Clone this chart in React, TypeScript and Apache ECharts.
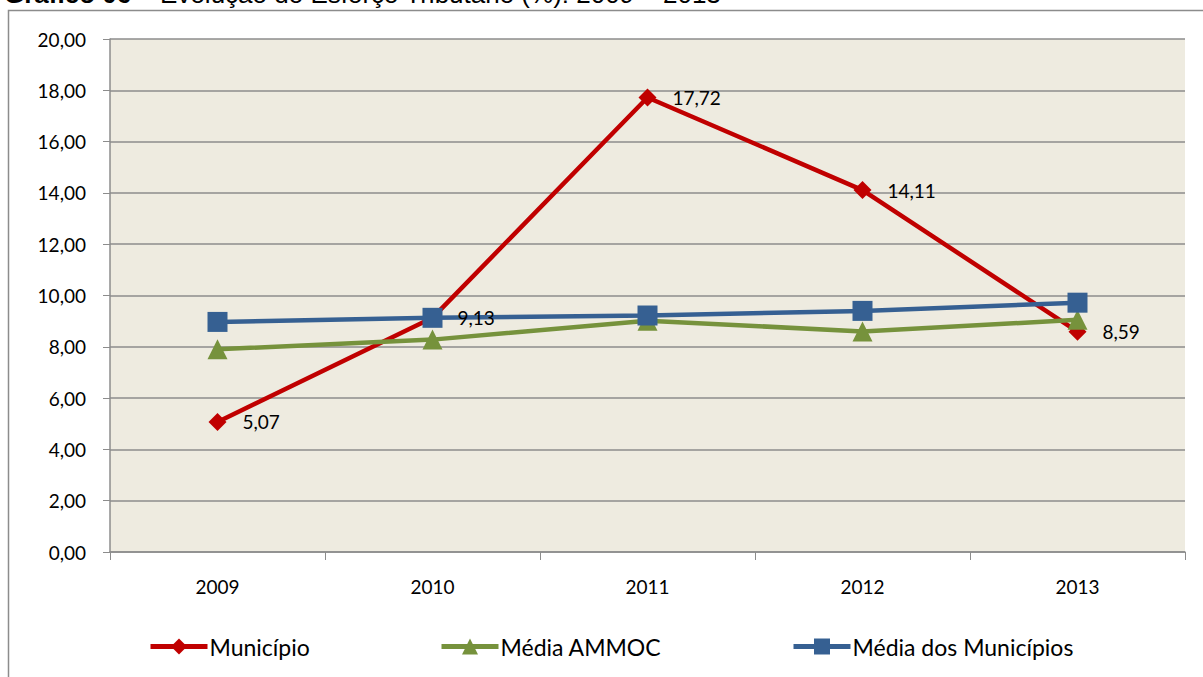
import React, { useEffect, useRef } from "react";
import * as echarts from "echarts";

const categories = ["2009", "2010", "2011", "2012", "2013"];
const municipio = [5.07, 9.13, 17.72, 14.11, 8.59];
const mediaAmmoc = [7.9, 8.28, 9.02, 8.6, 9.05];
const mediaMunicipios = [8.97, 9.13, 9.22, 9.4, 9.72];
const yTicks = { min: 0, max: 20, interval: 2 };

const FONT = "Lato";
const fmt = (v: number) => v.toFixed(2).replace(".", ",");

export default function App() {
  const ref = useRef<HTMLDivElement>(null);
  useEffect(() => {
    const chart = echarts.init(ref.current!, undefined, { renderer: "svg" });
    const legendBase = {
      top: 630,
      itemWidth: 57,
      itemHeight: 20,
      itemGap: 4,
      lineStyle: { width: 5 },
      textStyle: { fontFamily: FONT, fontSize: 23, color: "#000", padding: [0, 0, 0, -3] },
    };
    chart.setOption({
      animation: false,
      backgroundColor: "#fff",
      textStyle: { fontFamily: FONT },
      graphic: [
        {
          type: "rect",
          shape: { x: 8.5, y: 10.5, width: 1400, height: 900 },
          style: { fill: "none", stroke: "#8c8c8c", lineWidth: 1.5 },
          silent: true,
        },
        {
          type: "text",
          left: 4,
          top: -19,
          style: {
            text: "{b|Gráfico 06} – Evolução do Esforço Tributário (%): 2009 – 2013",
            font: "26px 'Liberation Sans', Arial, sans-serif",
            fill: "#000",
            rich: {
              b: {
                font: "bold 26px 'Liberation Sans', Arial, sans-serif",
                fill: "#000",
              },
            },
          },
        },
      ],
      grid: {
        left: 110,
        right: 18,
        top: 39,
        bottom: 125,
        show: true,
        backgroundColor: "#EEEBE0",
        borderWidth: 0,
      },
      legend: [
        { ...legendBase, left: 143, data: ["Município"] },
        { ...legendBase, left: 434, data: ["Média AMMOC"] },
        { ...legendBase, left: 786, data: ["Média dos Municípios"] },
      ],
      xAxis: {
        type: "category",
        data: categories,
        boundaryGap: true,
        axisLine: { lineStyle: { color: "#8c8c8c", width: 1.5 } },
        axisTick: { show: true, length: 8, alignWithLabel: false, lineStyle: { color: "#8c8c8c" } },
        axisLabel: { fontFamily: FONT, fontSize: 19, color: "#000", margin: 25 },
        splitLine: { show: false },
      },
      yAxis: {
        type: "value",
        min: yTicks.min,
        max: yTicks.max,
        interval: yTicks.interval,
        axisLine: { show: true, lineStyle: { color: "#8c8c8c", width: 1.5 } },
        axisTick: { show: true, length: 7, lineStyle: { color: "#8c8c8c" } },
        axisLabel: {
          fontFamily: FONT,
          fontSize: 19,
          color: "#000",
          margin: 24,
          formatter: (v: number) => fmt(v),
        },
        splitLine: { show: true, lineStyle: { color: "#8c8c8c", width: 1.5 } },
      },
      series: [
        {
          name: "Município",
          type: "line",
          data: municipio,
          symbol: "diamond",
          symbolSize: 18,
          z: 2,
          itemStyle: { color: "#C00000" },
          lineStyle: { color: "#C00000", width: 4.5 },
        },
        {
          name: "Média AMMOC",
          type: "line",
          data: mediaAmmoc,
          symbol: "triangle",
          symbolSize: 20,
          z: 3,
          itemStyle: { color: "#76923C" },
          lineStyle: { color: "#76923C", width: 4.5 },
        },
        {
          name: "Média dos Municípios",
          type: "line",
          data: mediaMunicipios,
          symbol: "rect",
          symbolSize: 20,
          z: 4,
          itemStyle: { color: "#366092" },
          lineStyle: { color: "#366092", width: 4.5 },
        },
        {
          name: "Município rótulos",
          type: "line",
          data: municipio,
          symbol: "diamond",
          symbolSize: 18,
          z: 10,
          silent: true,
          itemStyle: { color: "rgba(0,0,0,0)" },
          lineStyle: { width: 0, opacity: 0 },
          label: {
            show: true,
            position: "right",
            distance: 16,
            fontFamily: FONT,
            fontSize: 19,
            color: "#000",
            formatter: (p: any) => fmt(p.value),
          },
        },
      ],
    });
    return () => chart.dispose();
  }, []);
  return (
    <div
      ref={ref}
      style={{ position: "absolute", left: 0, top: 0, width: 1203, height: 677 }}
    />
  );
}
